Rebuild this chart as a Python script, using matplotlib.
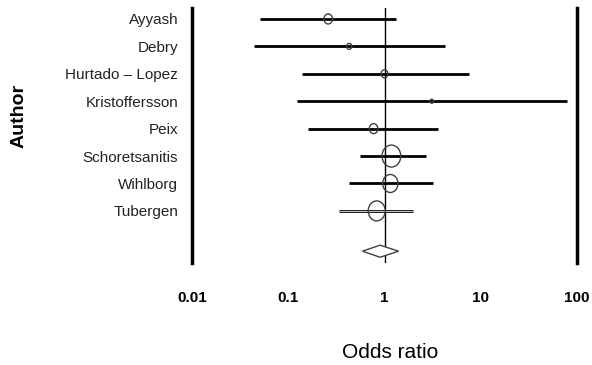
import matplotlib.pyplot as plt
import numpy as np
from matplotlib.path import Path
from matplotlib.transforms import Affine2D

plt.rcParams['font.family'] = ['Liberation Sans', 'DejaVu Sans']

# study data (odds ratio, 95% CI)
authors = ['Ayyash', 'Debry', 'Hurtado \u2013 Lopez', 'Kristoffersson', 'Peix',
           'Schoretsanitis', 'Wihlborg', 'Tubergen']
odds = [0.26, 0.43, 1.0, 3.1, 0.77, 1.18, 1.15, 0.83]
ci_low = [0.051, 0.044, 0.14, 0.124, 0.16, 0.55, 0.43, 0.34]
ci_high = [1.33, 4.3, 7.5, 79, 3.6, 2.67, 3.16, 1.96]
weights = [10, 6, 8, 4, 10, 22, 18, 20]   # marker size in px (study weight)

pooled = [0.59, 0.9, 1.4]  # low, estimate, high
pooled_row = 8.47

ticks = [0.01, 0.1, 1, 10, 100]
tick_labels = ['0.01', '0.1', '1', '10', '100']

# slightly tall ellipse marker
ell = Path.unit_circle().transformed(Affine2D().scale(0.85, 1.0))

fig = plt.figure(figsize=(5.92, 3.65), dpi=100)
ax = fig.add_axes([192 / 592, 1 - 263 / 365, 385 / 592, 255 / 365])

rows = np.arange(len(authors))
for i in rows:
    ax.plot([ci_low[i], ci_high[i]], [i, i], color='black', lw=2, solid_capstyle='butt', zorder=2)
    if authors[i] == 'Tubergen':
        # hollow-looking bar
        ax.plot([ci_low[i], ci_high[i]], [i, i], color='0.75', lw=0.8, solid_capstyle='butt', zorder=2)
    ax.scatter(odds[i], i, s=(weights[i] * 72 / 100) ** 2, marker=ell,
               facecolor='none', edgecolor='0.25', linewidths=1, zorder=3)

ax.axvline(1, color='black', lw=1, zorder=1)

# pooled diamond
lo, est, hi = pooled
ax.fill([lo, est, hi, est, lo], [pooled_row, pooled_row - 0.22, pooled_row, pooled_row + 0.22, pooled_row],
        facecolor='white', edgecolor='0.25', lw=1, zorder=3)

ax.set_xscale('log')
ax.set_xlim(0.01, 100)
ax.set_ylim(8.9, -0.4)
ax.set_xticks(ticks)
ax.set_xticklabels(tick_labels, fontsize=11, fontweight='bold')
ax.xaxis.set_minor_locator(plt.NullLocator())
ax.tick_params(axis='x', length=0, pad=20)
ax.set_yticks(rows)
ax.set_yticklabels(authors, fontsize=11, color='#222222')
ax.tick_params(axis='y', length=0, pad=10)

for s in ['top', 'bottom']:
    ax.spines[s].set_visible(False)
for s in ['left', 'right']:
    ax.spines[s].set_linewidth(2.5)

ax.set_ylabel('Author', fontsize=14, fontweight='bold')
ax.yaxis.set_label_coords(-0.426, 0.576)
ax.set_xlabel('Odds ratio', fontsize=15)
ax.xaxis.set_label_coords(0.514, -0.314)

fig.savefig('out.png', dpi=100)
